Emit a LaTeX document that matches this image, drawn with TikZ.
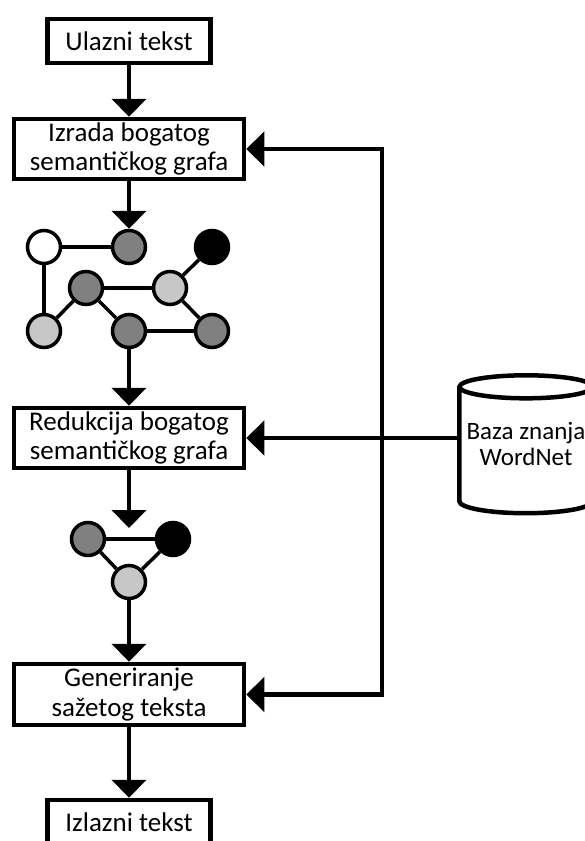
\documentclass[tikz,border=0pt]{standalone}
\usepackage{fontspec}
\setmainfont{Carlito}
\usepackage{tikz}
\usetikzlibrary{arrows.meta}
\pgfdeclarelayer{edgelayer}
\pgfdeclarelayer{nodelayer}
\pgfsetlayers{edgelayer,nodelayer,main}
\definecolor{dgray}{gray}{0.5}
\definecolor{lgray}{gray}{0.78}
\tikzstyle{none}=[inner sep=0pt]
\tikzstyle{stage}=[rectangle,draw=black,fill=white,line width=4.5,inner sep=0pt,minimum width=230,minimum height=60,align=center,font=\fontsize{27}{29.5}\selectfont]
\tikzstyle{io}=[stage,minimum width=163,minimum height=44]
\tikzstyle{concept}=[circle,draw=black,line width=3.5,minimum size=33,inner sep=0pt]
\tikzstyle{link}=[line width=3.5]
\tikzstyle{flow}=[-{Triangle[length=18pt,width=34pt]},line width=4.5]
\tikzstyle{twoflow}=[{Triangle[length=18pt,width=34pt]}-{Triangle[length=18pt,width=34pt]},line width=4.5]
\begin{document}
\begin{tikzpicture}[x=1pt,y=-1pt]
	\useasboundingbox (0,0) rectangle (584,841);
	\clip (0,0) rectangle (584,841);
	\begin{pgfonlayer}{nodelayer}
		\node [style=io] (ulaz) at (129, 41) {Ulazni tekst};
		\node [style=stage] (izrada) at (129, 149) {Izrada bogatog\\semantičkog grafa};
		\node [style=concept, fill=white] (w) at (44, 247) {};
		\node [style=concept, fill=dgray] (d1) at (129, 247) {};
		\node [style=concept, fill=black] (k) at (212, 247) {};
		\node [style=concept, fill=dgray] (d2) at (86, 288) {};
		\node [style=concept, fill=lgray] (l2) at (170, 288) {};
		\node [style=concept, fill=lgray] (l1) at (44, 331) {};
		\node [style=concept, fill=dgray] (d3) at (129, 331) {};
		\node [style=concept, fill=dgray] (d4) at (212, 331) {};
		\node [style=stage] (red) at (129, 438) {Redukcija bogatog\\semantičkog grafa};
		\coordinate (t2) at (129, 528);
		\node [style=concept, fill=dgray] (e1) at (88, 539) {};
		\node [style=concept, fill=black] (e2) at (173, 539) {};
		\node [style=concept, fill=lgray] (e3) at (129, 582) {};
		\node [style=stage, minimum height=61] (gen) at (129, 694.5) {Generiranje\\sažetog teksta};
		\node [style=io] (izlaz) at (129, 822) {Izlazni tekst};
		\node [style=none, minimum width=133, minimum height=114, align=center, font=\fontsize{25}{25.5}\selectfont] (baza) at (526, 444) {Baza znanja\\WordNet};
		\coordinate (bus) at (382, 694.5);
	\end{pgfonlayer}
	\begin{pgfonlayer}{edgelayer}
		\draw [style=flow] (ulaz) to (izrada);
		\draw [style=flow] (izrada) to (d1);
		\draw [style=link] (w) to (d1);
		\draw [style=link] (w) to (l1);
		\draw [style=link] (l1) to (d2);
		\draw [style=link] (d2) to (l2);
		\draw [style=link] (d2) to (d3);
		\draw [style=link] (l2) to (k);
		\draw [style=link] (l2) to (d4);
		\draw [style=link] (d3) to (d4);
		\draw [style=flow] (d3) to (red);
		\draw [style=flow] (red) to (t2);
		\draw [style=link] (e1) to (e2);
		\draw [style=link] (e1) to (e3);
		\draw [style=link] (e2) to (e3);
		\draw [style=flow] (e3) to (gen);
		\draw [style=flow] (gen) to (izlaz);
		\draw [style=twoflow] (izrada.east) -| (bus) -- (gen.east);
		\draw [style=flow] (baza.west |- red.east) to (red.east);
		\draw [line width=4.5] (baza.north west) -- (baza.south west) arc[start angle=180, end angle=0, x radius=66.5, y radius=12] -- (baza.north east);
		\draw [line width=4.5] (baza.north) ellipse [x radius=66.5, y radius=11.5];
	\end{pgfonlayer}
\end{tikzpicture}
\end{document}
